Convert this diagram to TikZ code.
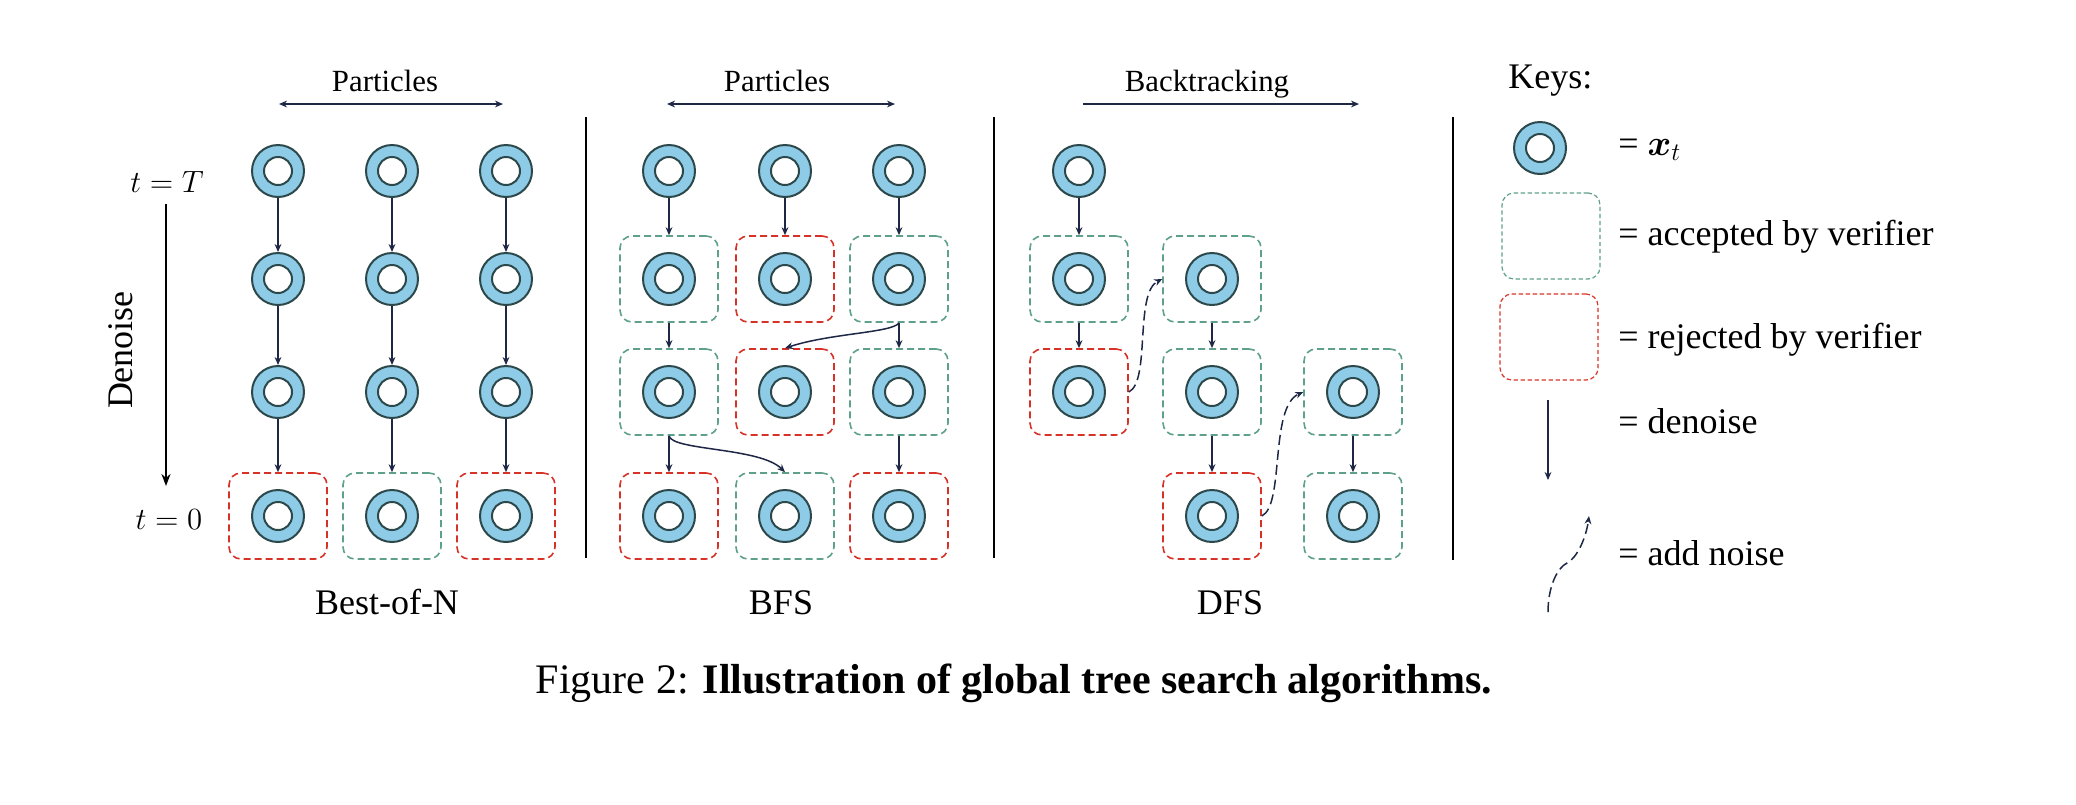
\RequirePackage{fix-cm}
\documentclass[tikz,border=0pt]{standalone}
\usepackage{amsmath}
\usepackage{fontspec}
\setmainfont{Liberation Serif}
\usetikzlibrary{arrows.meta}
\definecolor{circfill}{RGB}{142,203,230}
\definecolor{circline}{RGB}{44,72,74}
\definecolor{accgreen}{RGB}{95,160,140}
\definecolor{rejred}{RGB}{215,50,40}
\definecolor{navy}{RGB}{30,40,70}
\begin{document}
\begin{tikzpicture}[x=0.5pt,y=-0.5pt,
  xt/.style={circle, draw=circline, fill=circfill, line width=1pt, minimum size=26pt, inner sep=0pt,
    path picture={\draw[circline, line width=1pt, fill=white] (path picture bounding box.center) circle[radius=7pt];}},
  boxbase/.style={rectangle, rounded corners=6pt, minimum width=49pt, minimum height=43pt, inner sep=0pt,
    line width=0.8pt, dash pattern=on 3.5pt off 2pt},
  acc/.style={boxbase, draw=accgreen},
  rej/.style={boxbase, draw=rejred},
  keybox/.style={rectangle, rounded corners=6pt, minimum width=49pt, minimum height=43pt, inner sep=0pt,
    line width=0.6pt, dash pattern=on 2.2pt off 1.3pt},
  dn/.style={draw=navy, line width=0.75pt, -{Stealth[length=4pt,width=3.4pt]}},
  noise/.style={draw=navy, line width=0.75pt, dash pattern=on 5pt off 2.5pt, -{Stealth[length=4pt,width=3.4pt]}},
  lab/.style={font=\fontsize{18}{20}\selectfont, inner sep=0pt},
  small/.style={font=\fontsize{15.4}{17}\selectfont, inner sep=0pt},
  sep/.style={draw=black, line width=1pt}
]
\useasboundingbox (0,0) rectangle (2076,804);

% ---------------- Best-of-N ----------------
\node[rej] (ba14) at (278,516) {};
\node[acc] (ba24) at (392,516) {};
\node[rej] (ba34) at (506,516) {};
\foreach \c/\x in {1/278,2/392,3/506}{
  \foreach \r/\y in {1/171,2/279,3/392,4/516}{
    \node[xt] (a\c\r) at (\x,\y) {};
  }
}
\foreach \c in {1,2,3}{
  \draw[dn] (a\c1) -- (a\c2);
  \draw[dn] (a\c2) -- (a\c3);
  \draw[dn] (a\c3) -- (ba\c4);
}

% ---------------- BFS ----------------
\node[acc] (bb12) at (669,279) {};
\node[rej] (bb22) at (785,279) {};
\node[acc] (bb32) at (899,279) {};
\node[acc] (bb13) at (669,392) {};
\node[rej] (bb23) at (785,392) {};
\node[acc] (bb33) at (899,392) {};
\node[rej] (bb14) at (669,516) {};
\node[acc] (bb24) at (785,516) {};
\node[rej] (bb34) at (899,516) {};
\foreach \c/\x in {1/669,2/785,3/899}{
  \foreach \r/\y in {1/171,2/279,3/392,4/516}{
    \node[xt] (b\c\r) at (\x,\y) {};
  }
}
\draw[dn] (b11) -- (bb12);
\draw[dn] (bb12) -- (bb13);
\draw[dn] (bb13) -- (bb14);
\draw[dn] (b21) -- (bb22);
\draw[dn] (b31) -- (bb32);
\draw[dn] (bb32) -- (bb33);
\draw[dn] (bb33) -- (bb34);
\draw[dn] (bb32.south) .. controls +(-6,10) and +(45,-15) .. (bb23.north);
\draw[dn] (bb13.south) .. controls +(3,15) and +(-25,-25) .. (bb24.north);

% ---------------- DFS ----------------
\node[acc] (bd12) at (1079,279) {};
\node[rej] (bd13) at (1079,392) {};
\node[acc] (bd22) at (1212,279) {};
\node[acc] (bd23) at (1212,392) {};
\node[rej] (bd24) at (1212,516) {};
\node[acc] (bd33) at (1353,392) {};
\node[acc] (bd34) at (1353,516) {};
\node[xt] (d11) at (1079,171) {};
\node[xt] (d12) at (1079,279) {};
\node[xt] (d13) at (1079,392) {};
\node[xt] (d22) at (1212,279) {};
\node[xt] (d23) at (1212,392) {};
\node[xt] (d24) at (1212,516) {};
\node[xt] (d33) at (1353,392) {};
\node[xt] (d34) at (1353,516) {};
\draw[dn] (d11) -- (bd12);
\draw[dn] (bd12) -- (bd13);
\draw[dn] (bd22) -- (bd23);
\draw[dn] (bd23) -- (bd24);
\draw[dn] (bd33) -- (bd34);
\draw[noise] (bd13.east) .. controls +(22,-11) and +(-28,14) .. (bd22.west);
\draw[noise] (bd24.east) .. controls +(23,-11) and +(-34,15) .. (bd33.west);

% ---------------- top arrows and labels ----------------
\coordinate (pl1) at (279,104);
\coordinate (pr1) at (503,104);
\coordinate (pl2) at (667,104);
\coordinate (pr2) at (895,104);
\coordinate (bt1) at (1083,104);
\coordinate (bt2) at (1359,104);
\draw[draw=navy, line width=0.75pt, {Stealth[length=4pt,width=3.4pt]}-{Stealth[length=4pt,width=3.4pt]}] (pl1) -- (pr1);
\draw[draw=navy, line width=0.75pt, {Stealth[length=4pt,width=3.4pt]}-{Stealth[length=4pt,width=3.4pt]}] (pl2) -- (pr2);
\draw[dn] (bt1) -- (bt2);
\node[small, anchor=base] (tp1) at (385,91) {Particles};
\node[small, anchor=base] (tp2) at (777,91) {Particles};
\node[small, anchor=base] (tbk) at (1207,91) {Backtracking};

% ---------------- time axis ----------------
\node[small, anchor=base] (tT) at (167,192) {$t = T$};
\node[small, anchor=base] (t0) at (169,529) {$t = 0$};
\coordinate (dtop) at (166,204);
\coordinate (dbot) at (166,486);
\draw[draw=black, line width=1pt, -{Stealth[length=6pt,width=4.5pt]}] (dtop) -- (dbot);
\node[lab, rotate=90] (den) at (121,350) {Denoise};

% ---------------- separators ----------------
\coordinate (s1t) at (586,117); \coordinate (s1b) at (586,558);
\coordinate (s2t) at (994,117); \coordinate (s2b) at (994,558);
\coordinate (s3t) at (1453,117); \coordinate (s3b) at (1453,560);
\draw[sep] (s1t) -- (s1b);
\draw[sep] (s2t) -- (s2b);
\draw[sep] (s3t) -- (s3b);

% ---------------- bottom labels ----------------
\node[lab, anchor=base] (lbon) at (387,614) {Best-of-N};
\node[lab, anchor=base] (lbfs) at (781,614) {BFS};
\node[lab, anchor=base] (ldfs) at (1230,614) {DFS};

% ---------------- keys ----------------
\node[lab, anchor=base west] (keys) at (1508,88) {Keys:};
\node[xt] (kx) at (1540,148) {};
\node[lab, anchor=base west] (kxt) at (1618,155) {= $\boldsymbol{x}_t$};
\node[keybox, draw=accgreen] (kacc) at (1551,236) {};
\node[lab, anchor=base west] (kacct) at (1618,245) {= accepted by verifier};
\node[keybox, draw=rejred] (krej) at (1549,337) {};
\node[lab, anchor=base west] (krejt) at (1618,348) {= rejected by verifier};
\coordinate (kd1) at (1548,400);
\coordinate (kd2) at (1548,480);
\draw[dn] (kd1) -- (kd2);
\node[lab, anchor=base west] (kdent) at (1618,433) {= denoise};
\coordinate (kn1) at (1548,612);
\coordinate (knm) at (1567,563);
\coordinate (kn2) at (1589,516);
\draw[noise] (kn1) .. controls +(0,-25) and +(-10,5) .. (knm) .. controls +(10,-5) and +(-3,22) .. (kn2);
\node[lab, anchor=base west] (knt) at (1618,565) {= add noise};

% ---------------- caption ----------------
\node[font=\fontsize{21}{24}\selectfont, inner sep=0pt, anchor=base] (cap) at (1014,693)
  {Figure 2: \textbf{Illustration of global tree search algorithms.}};
\end{tikzpicture}
\end{document}
